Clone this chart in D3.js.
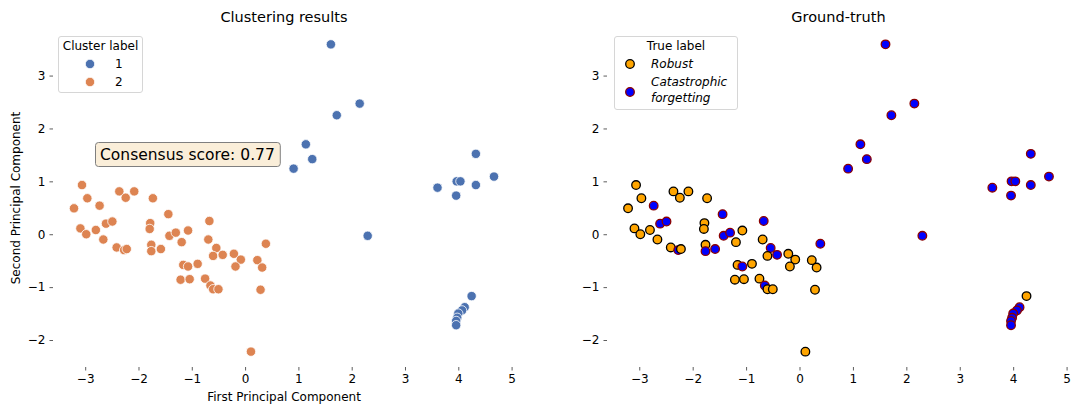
<!DOCTYPE html>
<html><head><meta charset="utf-8">
<script src="https://cdn.jsdelivr.net/npm/d3@7"></script>
<style>body{margin:0;background:#fff} text{font-family:"DejaVu Sans",sans-serif;fill:#000}</style>
</head><body><svg id="c" width="1075" height="405"></svg>
<script>
// First / second principal component of each sample
const pc1 = [-3.21,-3.06,-2.96,-2.73,-3.09,-2.98,-2.80,-2.66,-2.61,-2.49,-2.36,-2.24,-2.08,-2.41,-2.27,-2.22,
  -1.78,-1.79,-1.73,-1.76,-1.76,-1.58,-1.44,-1.42,-1.30,-1.07,-1.19,-1.16,-1.07,-0.89,-1.21,-1.04,
  -0.67,-0.69,-0.54,-0.60,-0.42,-0.75,-0.65,-0.60,-0.50,-0.21,-0.08,-0.18,0.23,0.32,0.29,0.39,0.11,
  1.61,2.15,1.72,1.14,1.26,0.91,2.30,3.61,3.96,3.97,4.04,4.33,4.33,4.67,
  4.25,4.12,4.07,4.00,3.98,3.96,3.96];
const pc2 = [0.49,0.93,0.68,0.54,0.11,0.00,0.08,-0.10,0.20,0.24,0.81,0.69,0.81,-0.25,-0.30,-0.28,
  0.21,0.10,0.68,-0.20,-0.32,-0.28,0.38,-0.03,0.03,0.07,-0.15,-0.58,-0.61,-0.56,-0.86,-0.85,
  0.25,-0.10,-0.26,-0.41,-0.39,-0.84,-0.97,-1.04,-1.04,-0.37,-0.48,-0.61,-0.49,-0.63,-1.05,-0.18,-2.22,
  3.59,2.47,2.25,1.70,1.42,1.24,-0.03,0.88,0.73,1.00,1.00,1.52,0.93,1.09,
  -1.17,-1.38,-1.44,-1.50,-1.58,-1.64,-1.72];
// Cluster assignment (1 or 2)
const clusterLabel = [2,2,2,2,2,2,2,2,2,2,2,2,2,2,2,2,
  2,2,2,2,2,2,2,2,2,2,2,2,2,2,2,2,
  2,2,2,2,2,2,2,2,2,2,2,2,2,2,2,2,2,
  1,1,1,1,1,1,1,1,1,1,1,1,1,1,
  1,1,1,1,1,1,1];
// True label: R = Robust, C = Catastrophic forgetting
const trueLabel = ["R","R","R","C","R","R","R","R","C","C","R","R","R","R","C","R",
  "R","R","R","R","C","C","C","C","C","R","R","R","C","R","R","R",
  "C","R","C","R","C","R","C","R","R","R","R","R","R","R","R","C","R",
  "C","C","C","C","C","C","C","C","C","C","C","C","C","C",
  "R","C","C","C","C","C","C"];
const xTicks = [-3,-2,-1,0,1,2,3,4,5];
const yTicks = [-2,-1,0,1,2,3];
const clusterNames = [1,2];
const clusterColors = ["#4c72b0","#dd8452"];
const trueNames = ["Robust","Catastrophic forgetting"];
const consensusScore = 0.77;

const svg = d3.select("#c");
const data = pc1.map((x,i)=>({x, y:pc2[i], c:clusterLabel[i], t:trueLabel[i]}));

function padExt(arr){ const e=d3.extent(arr), p=(e[1]-e[0])*0.05; return [e[0]-p, e[1]+p]; }
const xDom = padExt(pc1), yDom = padExt(pc2);
const plotTop = 29, plotBottom = 367;
const yS = d3.scaleLinear().domain(yDom).range([plotBottom, plotTop]);
const fmt = d => d < 0 ? "\u2212" + Math.abs(d) : String(d);
const FS = "12px";

function panel(x0, x1, title){
  const x = d3.scaleLinear().domain(xDom).range([x0, x1]);
  const g = svg.append("g");
  const xa = g.append("g").attr("transform",`translate(0,${plotBottom})`)
    .call(d3.axisBottom(x).tickValues(xTicks).tickFormat(fmt).tickSize(3.5).tickPadding(4));
  const ya = g.append("g").attr("transform",`translate(${x0},0)`)
    .call(d3.axisLeft(yS).tickValues(yTicks).tickFormat(fmt).tickSize(3.5).tickPadding(4));
  [xa,ya].forEach(a=>{ a.select(".domain").remove();
    a.selectAll("text").style("font-size",FS).style("font-family","DejaVu Sans");
    a.selectAll("line").attr("stroke","#333").attr("stroke-width",0.8); });
  g.append("text").attr("x",(x0+x1)/2).attr("y",22).attr("text-anchor","middle")
    .style("font-size","14.5px").text(title);
  return {g, x};
}

// Left panel
const L = panel(53, 515, "Clustering results");
const cColor = d3.scaleOrdinal().domain(clusterNames).range(clusterColors);
L.g.append("g").selectAll("circle").data(data).join("circle")
  .attr("cx", d=>L.x(d.x)).attr("cy", d=>yS(d.y)).attr("r", 4.7)
  .attr("fill", d=>cColor(d.c)).attr("stroke","#fff").attr("stroke-width",0.8);
L.g.append("text").attr("x",284).attr("y",401).attr("text-anchor","middle")
  .style("font-size",FS).text("First Principal Component");
L.g.append("text").attr("transform",`translate(20,${(plotTop+plotBottom)/2}) rotate(-90)`)
  .attr("text-anchor","middle").style("font-size",FS).text("Second Principal Component");
// legend
const lg = L.g.append("g");
lg.append("rect").attr("x",58.5).attr("y",36.5).attr("width",84).attr("height",56).attr("rx",2.5)
  .attr("fill","#fff").attr("fill-opacity",0.8).attr("stroke","#d6d6d6");
lg.append("text").attr("x",100.5).attr("y",50).attr("text-anchor","middle").style("font-size",FS).text("Cluster label");
clusterNames.forEach((n,i)=>{
  lg.append("circle").attr("cx",90).attr("cy",64+i*18).attr("r",4.7).attr("fill",cColor(n))
    .attr("stroke","#fff").attr("stroke-width",0.8);
  lg.append("text").attr("x",115).attr("y",68+i*18).style("font-size",FS).text(n);
});
// consensus box
const cb = L.g.append("g");
const cbRect = cb.append("rect");
const cbText = cb.append("text").attr("x",100).attr("y",160).style("font-size","15.5px")
  .text("Consensus score: " + consensusScore.toFixed(2));
const bb = cbText.node().getBBox();
cbRect.attr("x",95.5).attr("y",142.5).attr("width",bb.width+10).attr("height",24).attr("rx",3)
  .attr("fill","#f5deb3").attr("fill-opacity",0.5).attr("stroke","#7f7f7f");

// Right panel
const R = panel(607, 1070, "Ground-truth");
const tFill = {R:"#ffa500", C:"#0000ff"}, tStroke = {R:"#000", C:"#8b0000"};
R.g.append("g").selectAll("circle").data(data).join("circle")
  .attr("cx", d=>R.x(d.x)).attr("cy", d=>yS(d.y)).attr("r", 4.3)
  .attr("fill", d=>tFill[d.t]).attr("stroke", d=>tStroke[d.t]).attr("stroke-width",1.3);
const rg = R.g.append("g");
rg.append("rect").attr("x",614.5).attr("y",36.5).attr("width",123).attr("height",73).attr("rx",2.5)
  .attr("fill","#fff").attr("fill-opacity",0.8).attr("stroke","#d6d6d6");
rg.append("text").attr("x",676).attr("y",50).attr("text-anchor","middle").style("font-size",FS).text("True label");
rg.append("circle").attr("cx",630).attr("cy",64).attr("r",4.3).attr("fill",tFill.R).attr("stroke",tStroke.R).attr("stroke-width",1.3);
rg.append("text").attr("x",651).attr("y",68).style("font-size",FS).style("font-style","italic").text(trueNames[0]);
rg.append("circle").attr("cx",630).attr("cy",92).attr("r",4.3).attr("fill",tFill.C).attr("stroke",tStroke.C).attr("stroke-width",1.3);
const t2 = rg.append("text").style("font-size",FS).style("font-style","italic");
t2.append("tspan").attr("x",651).attr("y",86).text("Catastrophic");
t2.append("tspan").attr("x",651).attr("y",102).text("forgetting");
</script></body></html>
